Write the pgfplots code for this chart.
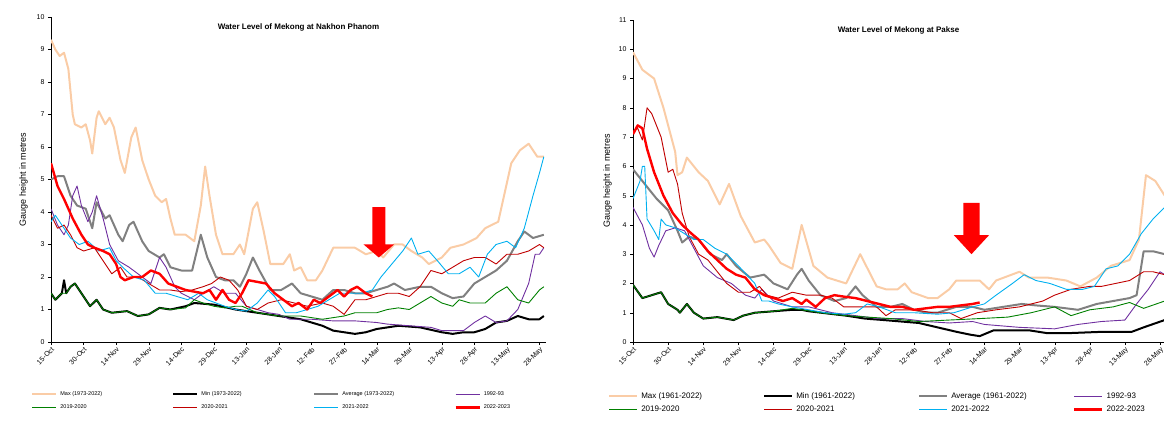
\documentclass[border=0pt]{standalone}
\usepackage{pgfplots}
\pgfplotsset{compat=1.18}
\usepackage{fontspec}
\setmainfont{Liberation Sans}
\definecolor{cmax}{RGB}{250,204,166}
\definecolor{cavg}{RGB}{128,128,128}
\definecolor{cpur}{RGB}{112,48,160}
\definecolor{cgrn}{RGB}{0,128,0}
\definecolor{cdrd}{RGB}{192,0,0}
\definecolor{cblu}{RGB}{0,176,240}
\definecolor{cred}{RGB}{255,0,0}
\pgfplotsset{
 mek/.style={scale only axis, axis lines=left, axis line style={-,black,line width=0.6pt},
  xmin=0, ymin=0, xtick={0,15,...,225},
  xticklabels={15-Oct,30-Oct,14-Nov,29-Nov,14-Dec,29-Dec,13-Jan,28-Jan,12-Feb,27-Feb,14-Mar,29-Mar,13-Apr,28-Apr,13-May,28-May},
  x tick label style={rotate=45,anchor=north east,font=\scriptsize,inner sep=1pt},
  y tick label style={font=\scriptsize},
  /pgf/number format/assume math mode=true,
  tick align=outside, tick style={black}, major tick length=3pt,
  ylabel={Gauge height in metres}, ylabel style={font=\small},
  title style={font=\bfseries\footnotesize, yshift=-24pt},
  legend columns=4, legend cell align=left,
  legend style={draw=none, fill=none, inner sep=0pt, row sep=4pt, /tikz/every odd column/.append style={column sep=1pt}},
  every axis plot/.append style={no markers, line join=round},
 },
 pmax/.style={cmax, line width=2pt},
 pmin/.style={black, line width=2pt},
 pavg/.style={cavg, line width=2pt},
 p92/.style={cpur, line width=0.9pt},
 p19/.style={cgrn, line width=0.9pt},
 p20/.style={cdrd, line width=0.9pt},
 p21/.style={cblu, line width=0.9pt},
 p22/.style={cred, line width=2.4pt},
}
\newcommand\LA[1]{\makebox[110pt][l]{#1}}
\newcommand\LB[1]{\makebox[120pt][l]{#1}}
\begin{document}
\begin{tikzpicture}
\path[use as bounding box] (0,-81pt) rectangle (1164pt,342pt);
\begin{axis}[mek, width=495pt, height=325pt, at={(51pt,0)}, xmax=228, ymax=10, ytick={0,1,...,10},
  title={Water Level of Mekong at Nakhon Phanom},
  ylabel style={yshift=2pt},
  legend image code/.code={\draw[#1] (0pt,0pt) -- (24pt,0pt);},
  legend style={at={(-0.04,-0.145)}, anchor=north west, font=\fontsize{5.5}{6}\selectfont}]
\addplot[pmax] coordinates {(0,9.3)(2,9.0)(4,8.8)(6,8.9)(8,8.4)(10,7.0)(11,6.7)(14,6.6)(16,6.7)(18,6.2)(19,5.8)(21,6.9)(22,7.1)(25,6.7)(27,6.9)(29,6.6)(32,5.6)(34,5.2)(37,6.3)(39,6.6)(42,5.6)(45,5.0)(48,4.5)(51,4.3)(53,4.4)(55,3.8)(57,3.3)(62,3.3)(66,3.1)(69,4.2)(71,5.4)(73,4.5)(76,3.3)(79,2.7)(84,2.7)(87,3.0)(89,2.7)(93,4.1)(95,4.3)(98,3.4)(101,2.4)(107,2.4)(110,2.7)(112,2.2)(115,2.3)(118,1.9)(122,1.9)(125,2.2)(130,2.9)(135,2.9)(140,2.9)(145,2.7)(150,2.8)(153,2.6)(158,3.0)(162,3.0)(166,2.8)(171,2.6)(174,2.4)(180,2.6)(184,2.9)(190,3.0)(196,3.2)(200,3.5)(203,3.6)(206,3.7)(212,5.5)(216,5.9)(220,6.1)(224,5.7)(227,5.7)};
\addlegendentry{\LA{Max (1973-2022)}}
\addplot[pmin] coordinates {(0,1.5)(2,1.3)(5,1.5)(6,1.9)(7,1.5)(9,1.7)(11,1.8)(14,1.5)(18,1.1)(21,1.3)(24,1.0)(28,0.9)(35,0.95)(40,0.8)(45,0.85)(50,1.05)(55,1.0)(62,1.1)(66,1.2)(75,1.15)(85,1.0)(95,0.9)(105,0.8)(115,0.7)(125,0.5)(130,0.35)(135,0.3)(140,0.25)(145,0.3)(150,0.4)(155,0.45)(160,0.5)(170,0.45)(180,0.3)(185,0.25)(190,0.3)(195,0.3)(200,0.4)(205,0.6)(210,0.65)(215,0.8)(220,0.7)(225,0.7)(227,0.8)};
\addlegendentry{\LA{Min (1973-2022)}}
\addplot[pavg] coordinates {(0,5.0)(3,5.1)(6,5.1)(9,4.5)(12,4.2)(16,4.1)(19,3.5)(21,4.3)(25,3.8)(27,3.9)(31,3.3)(33,3.1)(36,3.6)(38,3.7)(42,3.1)(45,2.8)(50,2.6)(52,2.7)(55,2.3)(60,2.2)(65,2.2)(69,3.3)(72,2.6)(76,2.0)(80,1.9)(84,1.9)(87,1.7)(90,2.1)(93,2.6)(96,2.2)(101,1.6)(106,1.6)(111,1.8)(115,1.5)(120,1.4)(125,1.3)(130,1.6)(135,1.6)(140,1.5)(145,1.5)(150,1.6)(155,1.7)(158,1.8)(163,1.6)(170,1.7)(175,1.7)(180,1.5)(185,1.35)(190,1.4)(195,1.8)(200,2.0)(205,2.2)(210,2.5)(215,3.1)(218,3.4)(222,3.2)(227,3.3)};
\addlegendentry{\LA{Average (1973-2022)}}
\addplot[p92] coordinates {(0,4.1)(3,3.6)(6,3.3)(8,3.6)(10,4.5)(12,4.8)(14,4.2)(17,3.7)(19,4.0)(21,4.5)(24,3.8)(27,3.0)(31,2.5)(36,2.3)(42,2.0)(46,1.8)(50,2.6)(53,2.3)(57,1.7)(60,1.5)(63,1.4)(66,1.3)(70,1.5)(75,1.7)(80,1.5)(85,1.5)(90,1.1)(95,1.0)(100,0.9)(105,0.85)(110,0.7)(120,0.7)(130,0.65)(140,0.65)(150,0.6)(155,0.55)(165,0.5)(175,0.45)(180,0.35)(190,0.35)(195,0.6)(200,0.8)(205,0.6)(210,0.65)(215,1.0)(220,1.8)(223,2.7)(225,2.7)(227,2.9)};
\addlegendentry{1992-93}
\addplot[p19] coordinates {(0,1.5)(2,1.3)(5,1.5)(7,1.5)(9,1.7)(11,1.8)(14,1.5)(18,1.1)(21,1.3)(24,1.0)(28,0.9)(35,0.95)(40,0.8)(45,0.85)(50,1.05)(55,1.0)(62,1.05)(66,1.3)(70,1.2)(75,1.1)(80,1.05)(85,1.1)(88,1.1)(95,0.9)(105,0.8)(115,0.8)(125,0.7)(135,0.8)(140,0.9)(150,0.9)(155,1.0)(160,1.05)(165,1.0)(175,1.4)(180,1.2)(185,1.1)(188,1.3)(193,1.2)(200,1.2)(205,1.5)(210,1.7)(215,1.3)(220,1.2)(225,1.6)(227,1.7)};
\addlegendentry{\LA{2019-2020}}
\addplot[p20] coordinates {(0,3.9)(3,3.5)(6,3.6)(9,3.3)(12,2.9)(15,2.8)(20,2.9)(25,2.4)(28,2.1)(32,2.3)(35,2.0)(40,2.0)(45,1.8)(50,1.6)(55,1.6)(60,1.55)(65,1.6)(70,1.7)(74,1.8)(78,2.0)(82,1.9)(86,1.6)(90,1.1)(95,1.0)(100,1.2)(106,1.3)(112,1.2)(118,1.1)(125,1.2)(130,1.1)(135,0.85)(140,1.3)(145,1.3)(150,1.4)(155,1.5)(160,1.5)(165,1.4)(170,1.7)(175,2.2)(180,2.1)(185,2.3)(190,2.5)(195,2.6)(200,2.6)(205,2.4)(210,2.7)(215,2.7)(220,2.8)(225,3.0)(227,2.9)};
\addlegendentry{\LA{2020-2021}}
\addplot[p21] coordinates {(0,3.7)(2,3.9)(5,3.6)(9,3.2)(13,3.0)(17,3.1)(22,2.8)(27,2.9)(30,2.5)(33,2.3)(38,2.0)(43,1.9)(48,1.5)(53,1.5)(58,1.4)(63,1.3)(68,1.5)(72,1.3)(76,1.2)(80,1.1)(85,1.0)(90,0.95)(95,1.2)(100,1.6)(103,1.4)(108,0.9)(113,0.9)(118,1.0)(123,1.1)(128,1.3)(133,1.5)(138,1.5)(143,1.5)(148,1.6)(152,2.0)(157,2.4)(162,2.8)(166,3.2)(169,2.7)(174,2.8)(178,2.5)(183,2.1)(188,2.1)(193,2.3)(197,2.0)(201,2.7)(205,3.0)(210,3.1)(214,2.9)(218,3.5)(222,4.5)(225,5.2)(227,5.7)};
\addlegendentry{\LA{2021-2022}}
\addplot[p22] coordinates {(0,5.5)(3,4.8)(6,4.4)(10,3.8)(14,3.3)(17,3.0)(20,2.9)(24,2.8)(27,2.7)(30,2.4)(32,2.0)(34,1.9)(38,2.0)(42,2.0)(46,2.2)(50,2.1)(54,1.8)(58,1.7)(62,1.6)(66,1.55)(70,1.5)(73,1.6)(76,1.3)(79,1.6)(82,1.3)(85,1.2)(88,1.5)(91,1.9)(95,1.85)(99,1.8)(103,1.5)(107,1.3)(111,1.1)(114,1.2)(118,1.0)(121,1.3)(124,1.2)(128,1.4)(132,1.6)(135,1.4)(138,1.6)(141,1.7)(145,1.5)(148,1.4)};
\addlegendentry{2022-2023}
\fill[cred] (axis cs:148,4.15) -- (axis cs:154,4.15) -- (axis cs:154,3.0) -- (axis cs:158,3.0) -- (axis cs:151,2.6) -- (axis cs:144,3.0) -- (axis cs:148,3.0) -- cycle;
\end{axis}
\begin{axis}[mek, width=531pt, height=322pt, at={(633pt,0)}, xmax=226.7, ymax=11, ytick={0,1,...,11},
  title={Water Level of Mekong at Pakse},
  legend image code/.code={\draw[#1] (0pt,0pt) -- (28pt,0pt);},
  legend style={at={(-0.047,-0.15)}, anchor=north west, font=\footnotesize, row sep=2pt}]
\addplot[pmax] coordinates {(0,9.9)(4,9.3)(9,9.0)(13,8.0)(18,6.5)(19,5.7)(21,5.8)(23,6.3)(28,5.8)(32,5.5)(37,4.7)(41,5.4)(46,4.3)(52,3.4)(56,3.5)(58,3.3)(63,2.7)(68,2.5)(72,4.0)(77,2.6)(83,2.2)(91,2.0)(97,3.0)(104,1.9)(108,1.8)(113,1.8)(116,2.0)(119,1.7)(126,1.5)(130,1.5)(135,1.8)(138,2.1)(144,2.1)(148,2.1)(152,1.8)(155,2.1)(165,2.4)(169,2.2)(177,2.2)(185,2.1)(191,1.9)(198,2.2)(204,2.6)(212,2.8)(216,3.5)(219,5.7)(223,5.5)(227,5.0)};
\addlegendentry{\LB{Max (1961-2022)}}
\addplot[pmin] coordinates {(0,1.95)(4,1.5)(8,1.6)(12,1.7)(15,1.3)(19,1.1)(20,1.0)(23,1.3)(26,1.0)(30,0.8)(36,0.85)(43,0.75)(47,0.9)(52,1.0)(60,1.05)(68,1.1)(72,1.1)(75,1.05)(91,0.9)(99,0.8)(107,0.75)(122,0.65)(130,0.5)(138,0.35)(144,0.25)(148,0.2)(151,0.3)(154,0.4)(169,0.4)(177,0.3)(185,0.3)(201,0.35)(213,0.35)(218,0.5)(227,0.75)};
\addlegendentry{\LB{Min (1961-2022)}}
\addplot[pavg] coordinates {(0,5.9)(5,5.4)(10,4.9)(15,4.5)(19,3.8)(21,3.4)(24,3.6)(28,3.5)(33,3.0)(38,2.8)(40,3.0)(44,2.6)(50,2.2)(56,2.3)(60,2.0)(66,1.8)(70,2.3)(72,2.5)(75,2.1)(80,1.6)(86,1.4)(91,1.5)(95,1.9)(98,1.6)(104,1.2)(110,1.2)(115,1.3)(120,1.1)(125,1.0)(130,1.0)(138,1.2)(145,1.2)(150,1.1)(158,1.2)(166,1.3)(172,1.25)(180,1.2)(190,1.1)(198,1.3)(205,1.4)(212,1.5)(215,1.6)(218,3.1)(222,3.1)(227,3.0)};
\addlegendentry{\LB{Average (1961-2022)}}
\addplot[p92] coordinates {(0,4.6)(4,4.0)(7,3.2)(9,2.9)(11,3.3)(14,3.8)(18,3.9)(22,3.8)(26,3.2)(30,2.6)(36,2.2)(42,2.0)(48,1.6)(52,1.5)(55,1.8)(60,1.4)(68,1.2)(75,1.2)(85,1.0)(95,0.9)(105,0.8)(115,0.8)(125,0.7)(135,0.65)(145,0.7)(150,0.6)(165,0.5)(180,0.45)(190,0.6)(200,0.7)(210,0.75)(215,1.3)(220,1.8)(225,2.4)(227,2.3)};
\addlegendentry{1992-93}
\addplot[p19] coordinates {(0,1.95)(4,1.5)(8,1.6)(12,1.7)(15,1.3)(19,1.1)(20,1.0)(23,1.3)(26,1.0)(30,0.8)(36,0.85)(43,0.75)(47,0.9)(52,1.0)(60,1.05)(68,1.15)(72,1.1)(80,1.0)(91,0.9)(100,0.85)(110,0.8)(122,0.7)(135,0.75)(148,0.8)(160,0.85)(170,1.0)(180,1.2)(187,0.9)(195,1.1)(205,1.2)(212,1.35)(218,1.15)(227,1.4)};
\addlegendentry{\LB{2019-2020}}
\addplot[p20] coordinates {(0,7.2)(2,7.3)(4,6.9)(6,8.0)(8,7.8)(12,7.0)(15,5.8)(17,5.9)(19,5.4)(21,4.4)(24,3.6)(28,3.0)(32,2.8)(36,2.4)(40,2.0)(45,1.7)(50,1.7)(54,1.9)(57,1.6)(62,1.5)(68,1.7)(74,1.6)(80,1.6)(85,1.5)(90,1.2)(95,1.2)(100,1.2)(104,1.2)(108,0.9)(112,1.1)(120,1.1)(128,1.0)(135,1.0)(140,0.8)(147,1.0)(155,1.1)(165,1.2)(175,1.4)(180,1.6)(187,1.8)(195,1.9)(200,1.9)(206,2.0)(212,2.1)(218,2.4)(222,2.4)(227,2.3)};
\addlegendentry{\LB{2020-2021}}
\addplot[p21] coordinates {(0,4.9)(3,5.5)(4,6.0)(5,6.0)(6,4.2)(9,3.8)(11,3.5)(12,4.2)(14,4.0)(18,3.9)(22,3.7)(26,3.5)(30,3.5)(35,3.2)(40,3.0)(45,2.6)(52,2.0)(55,1.4)(58,1.4)(62,1.3)(68,1.2)(75,1.1)(82,1.0)(90,0.95)(95,1.0)(100,1.3)(105,1.2)(112,1.0)(120,1.0)(130,0.95)(137,1.0)(145,1.2)(150,1.3)(155,1.6)(162,2.0)(167,2.3)(172,2.1)(178,2.0)(185,1.8)(192,1.8)(197,1.9)(202,2.5)(207,2.6)(212,3.0)(217,3.7)(222,4.2)(227,4.6)};
\addlegendentry{\LB{2021-2022}}
\addplot[p22] coordinates {(0,7.1)(2,7.4)(4,7.3)(6,6.6)(9,5.8)(13,5.0)(17,4.4)(21,4.0)(25,3.7)(28,3.5)(32,3.1)(36,2.8)(40,2.5)(44,2.3)(48,2.2)(52,1.8)(56,1.6)(60,1.5)(64,1.4)(68,1.5)(72,1.3)(74,1.45)(78,1.2)(82,1.5)(86,1.6)(90,1.55)(95,1.5)(100,1.4)(105,1.3)(110,1.2)(115,1.2)(120,1.1)(125,1.15)(130,1.2)(135,1.2)(140,1.25)(145,1.3)(148,1.35)};
\addlegendentry{2022-2023}
\fill[cred] (axis cs:141,4.75) -- (axis cs:148,4.75) -- (axis cs:148,3.65) -- (axis cs:152,3.65) -- (axis cs:144.5,3.0) -- (axis cs:137,3.65) -- (axis cs:141,3.65) -- cycle;
\end{axis}
\end{tikzpicture}
\end{document}
